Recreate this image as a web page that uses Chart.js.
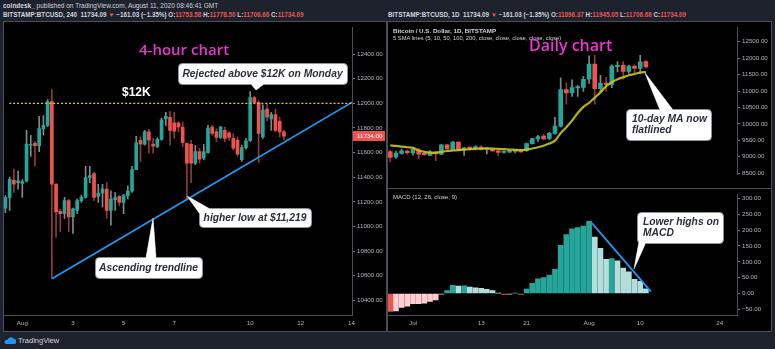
<!DOCTYPE html>
<html>
<head>
<meta charset="utf-8">
<script src="https://cdn.jsdelivr.net/npm/chart.js@4.4.0/dist/chart.umd.min.js"></script>
<style>
  html, body { margin: 0; padding: 0; }
  body {
    width: 775px; height: 349px; position: relative; overflow: hidden;
    background: #1e222d; color: #d1d4dc;
    font-family: 'Liberation Sans', Arial, sans-serif;
  }
  .abs   { position: absolute; white-space: nowrap; line-height: 1; }
  .panel { position: absolute; background: #000; border: 1px solid #4a4e5a; box-sizing: border-box; }
  canvas { position: absolute; display: block; }
  svg    { display: block; }
  .red   { color: #ef5350; }
  .hdr   { font-size: 6.5px; }
  .hdr2  { font-size: 6.3px; font-weight: bold; }
  .title { font-family: 'Open Sans', sans-serif; font-weight: 600; color: #e838cf; }
</style>
</head>
<body>

<div class="abs hdr" style="left:3px;top:3px;"><b>coindesk_</b> published on TradingView.com, August 11, 2020 08:46:41 GMT</div>
<div class="abs hdr2" style="left:3px;top:12px;">BITSTAMP:BTCUSD, 240&nbsp; 11734.09 <span class="red">▼</span> −161.03 (−1.35%) O:<span class="red">11753.58</span> H:<span class="red">11778.50</span> L:<span class="red">11706.66</span> C:<span class="red">11734.09</span></div>
<div class="abs hdr2" style="left:388px;top:12px;">BITSTAMP:BTCUSD, 1D&nbsp; 11734.09 <span class="red">▼</span> −161.03 (−1.35%) O:<span class="red">11896.37</span> H:<span class="red">11945.05</span> L:<span class="red">11706.66</span> C:<span class="red">11734.09</span></div>

<div class="panel" style="left:3px;top:21px;width:384px;height:311px;"></div>
<div class="panel" style="left:387px;top:21px;width:385px;height:311px;"></div>

<canvas id="c4h"   width="381" height="308" style="left:4px;top:22px;"></canvas>
<canvas id="c1d"   width="383" height="167" style="left:388px;top:22px;"></canvas>
<canvas id="cmacd" width="383" height="141" style="left:388px;top:189px;"></canvas>

<div class="abs" style="left:388px;top:188px;width:383px;height:1px;background:#4a4e5a;"></div>

<div class="abs" style="left:393px;top:28px;font-size:6.2px;font-weight:bold;">Bitcoin / U.S. Dollar, 1D, BITSTAMP</div>
<div class="abs" style="left:393px;top:36px;font-size:5.8px;">5 SMA lines (5, 10, 50, 100, 200, close, close, close, close, close)</div>
<div class="abs" style="left:393px;top:194px;font-size:6px;">MACD (12, 26, close, 9)</div>

<div class="abs title" style="left:139px;top:42px;font-size:15px;">4-hour chart</div>
<div class="abs title" style="left:529px;top:37px;font-size:16px;">Daily chart</div>
<div class="abs" style="left:122px;top:86px;font-size:12px;font-weight:bold;color:#fff;">$12K</div>

<div class="abs" style="left:4px;top:336px;">
  <svg width="12" height="8" viewBox="0 0 12 8"><path d="M2 8h8a2.5 2.5 0 0 0 0-5 3.5 3.5 0 0 0-6.5 1A2 2 0 0 0 2 8z" fill="#2196f3"/></svg>
</div>
<div class="abs" style="left:18px;top:337px;font-size:7.5px;">TradingView</div>

<script>
/* ═══════════════════════════════════════════════════════════════
   BTC 4-hour + daily charts (TradingView screenshot remake)
   ═══════════════════════════════════════════════════════════════ */

/* ── 4-hour candles: slot 0 = Aug 1 00:00, 6 slots per day ───── */
const h4FirstSlot = -4;
const h4Open  = [11149, 11236, 11375, 11356, 11350, 11369, 11660, 11675, 11656, 11795, 11821, 12015, 11343, 11122, 11103, 11210, 11077, 11130, 11210, 11236, 11396, 11430, 11244, 11271, 11303, 11130, 11218, 11244, 11196, 11250, 11287, 11462, 11700, 11669, 11768, 11669, 11648, 11707, 11874, 11887, 11842, 11842, 11808, 11675, 11667, 11515, 11608, 11555, 11600, 11808, 11768, 11723, 11781, 11760, 11715, 11701, 11542, 11640, 11696, 12047, 12007, 11728, 11954, 11874, 11909, 11855, 11768];
const h4High  = [11250, 11400, 11467, 11450, 11380, 11781, 11741, 11690, 11895, 11900, 12030, 12113, 11350, 11140, 11236, 11223, 11150, 11223, 11255, 11489, 11489, 11441, 11343, 11343, 11356, 11290, 11276, 11250, 11260, 11330, 11489, 11733, 11728, 11780, 11790, 11715, 11720, 11880, 11927, 11935, 11927, 11850, 11848, 11680, 11700, 11660, 11635, 11667, 11821, 11821, 11795, 11813, 11808, 11770, 11755, 11728, 11661, 11715, 12095, 12060, 12020, 11988, 11994, 11927, 11954, 11887, 11781];
const h4Low   = [11112, 11130, 11276, 11303, 11236, 11360, 11568, 11489, 11608, 11741, 11810, 10575, 10910, 10957, 11064, 10957, 10944, 11103, 11196, 11230, 11356, 11210, 11196, 11157, 11064, 11010, 11130, 11170, 11103, 11223, 11276, 11528, 11528, 11660, 11595, 11595, 11640, 11700, 11821, 11661, 11715, 11768, 11648, 11219, 11356, 11502, 11515, 11542, 11595, 11741, 11688, 11715, 11688, 11700, 11622, 11568, 11528, 11627, 11690, 11994, 11520, 11715, 11860, 11781, 11768, 11728, 11706];
const h4Close = [11236, 11383, 11343, 11370, 11365, 11669, 11665, 11656, 11795, 11821, 12015, 11343, 11117, 11103, 11210, 11077, 11143, 11210, 11236, 11396, 11414, 11236, 11271, 11303, 11130, 11223, 11236, 11196, 11250, 11287, 11462, 11680, 11669, 11768, 11701, 11653, 11707, 11866, 11895, 11781, 11775, 11808, 11680, 11515, 11515, 11608, 11547, 11608, 11800, 11755, 11723, 11808, 11715, 11723, 11635, 11587, 11640, 11696, 12047, 12007, 11755, 11946, 11887, 11909, 11781, 11768, 11734];

const h4TickSlots  = [0, 12, 24, 36, 54, 66, 78];
const h4TickLabels = ['Aug', '3', '5', '7', '10', '12', '14'];
const h4PriceTicks = [10400, 10600, 10800, 11000, 11200, 11400, 11600, 11800, 12000, 12200, 12400];

const resistance      = 12000;
const resistanceSlots = [-3.1, 78.2];
const trendSlots      = [7, 78.2];
const trendPrices     = [10575, 12010];

/* ── Daily candles: day 0 = Jun 28 ────────────────────────────── */
const dFirstDay = -1;
const dOpen  = [9157, 8997, 9104, 9175, 9113, 9202, 9104, 9042, 9148, 9077, 9362, 9220, 9443, 9220, 9291, 9238, 9291, 9220, 9246, 9184, 9131, 9140, 9160, 9200, 9184, 9398, 9540, 9630, 9559, 9710, 9933, 11047, 10940, 11092, 11109, 11359, 11822, 11074, 11243, 11200, 11740, 11780, 11600, 11760, 11690, 11896];
const dHigh  = [9200, 9175, 9230, 9200, 9270, 9260, 9120, 9190, 9160, 9380, 9380, 9460, 9450, 9290, 9300, 9330, 9340, 9280, 9260, 9200, 9180, 9200, 9220, 9210, 9420, 9560, 9650, 9680, 9740, 10200, 11400, 11250, 11340, 11170, 11450, 12072, 12090, 11480, 11420, 11800, 11900, 11900, 11790, 11800, 12089, 11945];
const dLow   = [8846, 8950, 9080, 9080, 9050, 8935, 9040, 9030, 8881, 9060, 9220, 9200, 9180, 9042, 9200, 9210, 9200, 9090, 9160, 9040, 9110, 9130, 9120, 9130, 9160, 9380, 9460, 9520, 9520, 9680, 9900, 10600, 10840, 10840, 10990, 11230, 10600, 10950, 11000, 11100, 11580, 11360, 11540, 11530, 11540, 11706];
const dClose = [8979, 9113, 9184, 9122, 9229, 9077, 9060, 9148, 9086, 9362, 9238, 9443, 9202, 9273, 9220, 9309, 9220, 9265, 9175, 9131, 9160, 9180, 9200, 9150, 9398, 9550, 9612, 9540, 9710, 9933, 11047, 10940, 11109, 11136, 11359, 11822, 11074, 11243, 11200, 11760, 11780, 11600, 11760, 11690, 11893, 11734];
const sma10  = [9345, 9330, 9310, 9290, 9273, 9200, 9150, 9125, 9122, 9150, 9175, 9190, 9202, 9215, 9230, 9240, 9250, 9255, 9250, 9240, 9230, 9220, 9210, 9202, 9215, 9250, 9290, 9335, 9400, 9490, 9720, 9900, 10100, 10330, 10520, 10640, 10800, 10960, 11150, 11270, 11360, 11420, 11480, 11520, 11560, 11580];
const macdHist = [-57, -55, -44, -40, -32, -32, -31, -25, -20, -2, 9, 26, 23, 24, 20, 18, 16, 13, 9, 1, -3, -2, 1, -3, 14, 32, 46, 50, 58, 76, 152, 186, 204, 208, 213, 228, 178, 143, 108, 110, 103, 80, 68, 45, 38, 15];

const dTickDays   = [3, 15, 23, 34, 43, 57];
const dTickLabels = ['Jul', '13', '21', 'Aug', '10', '24'];
const dPriceTicks = [8500, 9000, 9500, 10000, 10500, 11000, 11500, 12000, 12500];
const macdTicks   = [-50, 0, 50, 100, 150, 200, 250, 300];
const macdTrendDays = [34.5, 44.9];
const macdTrendVals = [222, 6];

/* ── Styling ──────────────────────────────────────────────────── */
const UP = '#26a69a', DN = '#ef5350';
const WICK_UP = '#7d8b8a', WICK_DN = '#8e3b3b';
const TXT = '#b2b5be';
const TICK_FONT = { family: "'Liberation Sans', Arial, sans-serif", size: 6.2 };
const fmt2 = v => v.toFixed(2).replace('-', '−');

Chart.defaults.animation = false;
Chart.defaults.events = [];
Chart.defaults.plugins.legend.display = false;
Chart.defaults.plugins.tooltip.enabled = false;

function candleSets(first, o, h, l, c, bodyW) {
  const up = c.map((v, i) => v >= o[i]);
  return [
    {
      type: 'bar', grouped: false, order: 3, barThickness: 1,
      data: l.map((v, i) => ({ x: first + i, y: [v, h[i]] })),
      backgroundColor: up.map(u => u ? WICK_UP : WICK_DN),
    },
    {
      type: 'bar', grouped: false, order: 2, barThickness: bodyW, minBarLength: 1,
      data: o.map((v, i) => ({ x: first + i, y: [Math.min(v, c[i]), Math.max(v, c[i])] })),
      backgroundColor: up.map(u => u ? UP : DN),
    },
  ];
}

function lineSet(xs, ys, color, width, dash) {
  return {
    type: 'line', order: 1,
    data: xs.map((x, i) => ({ x, y: ys[i] })),
    borderColor: color, borderWidth: width, borderDash: dash || [],
    pointRadius: 0, tension: 0.3, fill: false,
  };
}

function yAxis(min, max, ticks, width) {
  return {
    type: 'linear', position: 'right', min, max,
    afterBuildTicks: s => { s.ticks = ticks.map(v => ({ value: v })); },
    afterFit: s => { s.width = width; },
    grid: { drawOnChartArea: false, drawTicks: true, tickLength: 3, color: '#787b86' },
    border: { color: '#4a4e5a' },
    ticks: { color: TXT, font: TICK_FONT, padding: 2, callback: v => fmt2(v) },
  };
}

function xAxis(min, max, ticks, labels, show) {
  return {
    type: 'linear', min, max, offset: false, display: show,
    afterBuildTicks: s => { s.ticks = ticks.map(v => ({ value: v })); },
    afterFit: s => { s.height = 15; },
    grid: { display: false, drawTicks: false },
    border: { display: true, color: '#4a4e5a' },
    ticks: { color: TXT, font: TICK_FONT, padding: 5, autoSkip: false, maxRotation: 0,
             callback: (v, i) => labels[i] },
  };
}

/* ── Callout bubbles (page coordinates) ───────────────────────── */
const calloutPlugin = {
  id: 'callouts',
  afterDraw(chart, args, opts) {
    const ctx = chart.ctx;
    const ox = chart.canvas.offsetLeft, oy = chart.canvas.offsetTop;
    (opts.items || []).forEach(c => {
      ctx.save();
      ctx.translate(-ox, -oy);
      ctx.lineWidth = 1;
      ctx.strokeStyle = '#8f929b';
      ctx.fillStyle = '#fff';
      const [b1, b2, tip] = c.tail;
      const tri = (p, q) => { ctx.beginPath(); ctx.moveTo(p[0], p[1]); ctx.lineTo(tip[0], tip[1]); ctx.lineTo(q[0], q[1]); ctx.closePath(); };
      tri(b1, b2); ctx.fill(); ctx.stroke();
      ctx.beginPath(); ctx.roundRect(c.box[0] + .5, c.box[1] + .5, c.box[2], c.box[3], 4); ctx.fill(); ctx.stroke();
      // hide the seam between bubble and tail
      const ext = p => { const dx = p[0] - tip[0], dy = p[1] - tip[1], d = Math.hypot(dx, dy); return [p[0] + dx / d * 2.5, p[1] + dy / d * 2.5]; };
      tri(ext(b1), ext(b2)); ctx.fill();
      ctx.fillStyle = '#2a2e39';
      ctx.font = "italic bold 10.3px 'Liberation Sans', Arial, sans-serif";
      ctx.textBaseline = 'middle';
      if (c.lines.length === 1) {
        ctx.textAlign = 'center';
        ctx.fillText(c.lines[0], c.box[0] + c.box[2] / 2, c.box[1] + c.box[3] / 2 + .5);
      } else {
        ctx.textAlign = 'left';
        c.lines.forEach((t, i) => ctx.fillText(t, c.box[0] + 6, c.box[1] + 10.5 + i * 11));
      }
      ctx.restore();
    });
  }
};

/* Red last-price tag on the 4h price axis */
const priceTagPlugin = {
  id: 'priceTag',
  afterDraw(chart, args, opts) {
    if (opts.value == null) return;
    const ctx = chart.ctx, y = Math.round(chart.scales.y.getPixelForValue(opts.value));
    const x0 = chart.chartArea.right + 1;
    ctx.save();
    ctx.fillStyle = DN;
    ctx.fillRect(x0, y - 5, chart.width - x0, 10);
    ctx.fillStyle = '#fff';
    ctx.font = "6.2px 'Liberation Sans', Arial, sans-serif";
    ctx.textBaseline = 'middle';
    ctx.fillText(fmt2(opts.value), x0 + 4, y + .5);
    ctx.restore();
  }
};

Chart.register(calloutPlugin, priceTagPlugin);

/* ── 4-hour chart ─────────────────────────────────────────────── */
new Chart(document.getElementById('c4h'), {
  type: 'bar',
  data: {
    datasets: [
      ...candleSets(h4FirstSlot, h4Open, h4High, h4Low, h4Close, 3),
      lineSet(resistanceSlots, resistanceSlots.map(() => resistance), '#e3cf2c', 1.4, [2, 2]),
      lineSet(trendSlots, trendPrices, '#2196f3', 1.8),
    ],
  },
  options: {
    responsive: false,
    layout: { padding: 0 },
    scales: {
      x: xAxis(-4.34, 78.13, h4TickSlots, h4TickLabels, true),
      y: yAxis(10280, 12615, h4PriceTicks, 33),
    },
    plugins: {
      priceTag: { value: h4Close[h4Close.length - 1] },
      callouts: { items: [
        { box: [178, 63, 169, 21], tail: [[251, 84], [264, 84], [256, 90]], lines: ['Rejected above $12K on Monday'] },
        { box: [199, 208, 112, 19], tail: [[200, 214], [210, 209], [187, 196]], lines: ['higher low at $11,219'] },
        { box: [95, 257, 107, 21], tail: [[146, 258], [156, 258], [153, 218]], lines: ['Ascending trendline'] },
      ] },
    },
  },
});

/* ── Daily price chart ────────────────────────────────────────── */
const smaSet = lineSet(sma10.map((_, i) => dFirstDay + i), sma10, 'rgba(200,196,22,0.9)', 2.2);
new Chart(document.getElementById('c1d'), {
  type: 'bar',
  data: {
    datasets: [
      ...candleSets(dFirstDay, dOpen, dHigh, dLow, dClose, 4),
      smaSet,
    ],
  },
  options: {
    responsive: false,
    layout: { padding: 0 },
    scales: {
      x: xAxis(-1.4, 60.04, dTickDays, dTickLabels, false),
      y: yAxis(8475, 12928, dPriceTicks, 34),
    },
    plugins: {
      callouts: { items: [
        { box: [626, 109, 85, 31], tail: [[660, 110], [673, 110], [645, 73]], lines: ['10-day MA now', 'flatlined'] },
      ] },
    },
  },
});

/* ── MACD histogram ───────────────────────────────────────────── */
const macdColors = macdHist.map((v, i) => {
  const prev = i ? macdHist[i - 1] : Infinity;
  if (v >= 0) return v > prev ? '#26a69a' : '#b2dfdb';
  return v < prev ? '#ef5350' : '#ffcdd2';
});

new Chart(document.getElementById('cmacd'), {
  type: 'bar',
  data: {
    datasets: [
      {
        type: 'bar', grouped: false, order: 2, barThickness: 5,
        data: macdHist.map((v, i) => ({ x: dFirstDay + i, y: v })),
        backgroundColor: macdColors,
      },
      lineSet(macdTrendDays, macdTrendVals, '#2196f3', 1.8),
    ],
  },
  options: {
    responsive: false,
    layout: { padding: 0 },
    scales: {
      x: xAxis(-1.4, 60.04, dTickDays, dTickLabels, true),
      y: yAxis(-68, 312, macdTicks, 34),
    },
    plugins: {
      callouts: { items: [
        { box: [637, 212, 86, 31], tail: [[639, 242], [646, 242], [634, 269]], lines: ['Lower highs on', 'MACD'] },
      ] },
    },
  },
});
</script>
</body>
</html>
